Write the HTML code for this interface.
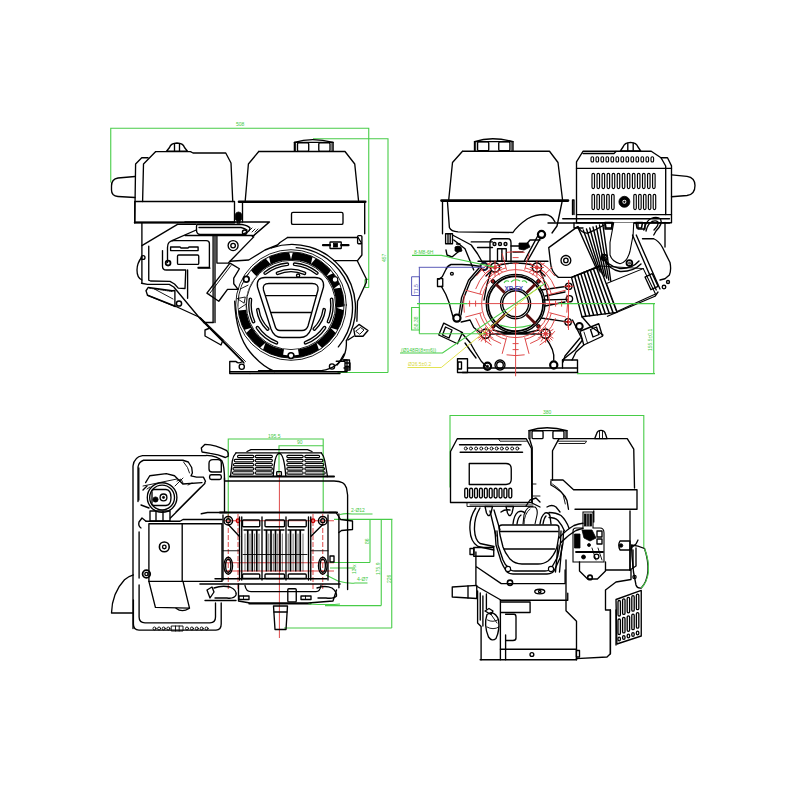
<!DOCTYPE html>
<html><head><meta charset="utf-8"><style>
html,body{margin:0;padding:0;background:#fff;}
svg{display:block;}
.k{fill:none;stroke:#000;stroke-width:1.35;stroke-linejoin:round;stroke-linecap:round;}
.kt{fill:none;stroke:#000;stroke-width:0.9;stroke-linejoin:round;stroke-linecap:round;}
.kf{fill:#000;stroke:#000;stroke-width:0.8;}
.wf{fill:#fff;stroke:#000;stroke-width:1.1;}
.g{fill:none;stroke:#48cc48;stroke-width:1.1;}
.r{fill:none;stroke:#dc4040;stroke-width:0.95;}
.rd{fill:none;stroke:#e03030;stroke-width:0.8;stroke-dasharray:6 2 1 2;}
.b{fill:none;stroke:#4848b0;stroke-width:0.9;}
.y{fill:none;stroke:#e0e040;stroke-width:0.9;}
.gt{font-family:"Liberation Sans",sans-serif;font-size:5px;fill:#3ec83e;}
.bt{font-family:"Liberation Sans",sans-serif;font-size:5px;fill:#4848b0;}
.yt{font-family:"Liberation Sans",sans-serif;font-size:5px;fill:#d8d840;}
</style></head><body>
<svg width="800" height="800" viewBox="0 0 800 800">
<rect x="0" y="0" width="800" height="800" fill="#fff"/>
<path d="M110.75,182.5 L110.75,128.25 L368.75,128.25 L368.75,287.5" class="g" />
<path d="M313,138.75 L388,138.75 L388,372.5 M337.5,372.5 L388,372.5" class="g" />
<text x="236" y="126" class="gt" >508</text>
<text x="386" y="262" class="gt" transform="rotate(-90 386 262)">457</text>
<path d="M365,279.4 L369,279.4 M365,287.5 L369,287.5 M365,279.4 L365,287.5" class="g" />
<path d="M155.75,151.6 L190.5,151.6 L193,153 L225.75,153 L231,163 L232.75,201.5" class="k" />
<path d="M155.75,151.6 L143.5,163.9 L142.6,201.5" class="k" />
<path d="M148,157.75 L141.75,157.75 L135.6,164 L134.75,223" class="k" />
<rect x="134.75" y="201.5" width="99.75" height="21" rx="0" class="k" />
<line x1="134.75" y1="222.5" x2="234.5" y2="222.5" class="k" style="stroke-width:2"/>
<path d="M135,176.5 L118,178 Q111.5,179 111.5,186 L111.5,190 Q111.5,196 118,196.5 L135,197.5" class="k" />
<path d="M166.5,151.2 L169.5,147.5 Q171,143.2 177,143 Q183,143.2 184.5,147.5 L187.5,151.2 Z" class="k" />
<line x1="174.5" y1="143.8" x2="174.5" y2="151" class="k" />
<line x1="179.5" y1="143.8" x2="179.5" y2="151" class="k" />
<path d="M235.2,214.5 Q236,212 238.5,212 Q241,212 241.8,214.5 L241.8,219 Q241,221 238.5,221 Q236,221 235.2,219 Z" class="kf" />
<rect x="237.2" y="221" width="2.6" height="2" rx="0" class="k" />
<path d="M258.75,151.5 L345,151.5 L354.75,164 L358.5,200.5 M258.75,151.5 L248.4,164 L245.25,200.5" class="k" />
<line x1="239" y1="201.8" x2="365.25" y2="201.8" class="k" style="stroke-width:2.6"/>
<path d="M294.4,151.3 L294.4,142.4 Q311.815,136.8 333.1,142.4 L333.1,151.3" class="k" />
<line x1="294.4" y1="142.4" x2="333.1" y2="142.4" class="k" />
<rect x="297.5" y="142.70000000000002" width="11.22" height="8.600000000000005" rx="1.2" class="k" />
<rect x="318.78" y="142.70000000000002" width="11.22" height="8.600000000000005" rx="1.2" class="k" />
<line x1="295.561" y1="142.4" x2="295.561" y2="151.3" class="kt" />
<line x1="331.939" y1="142.4" x2="331.939" y2="151.3" class="kt" />
<path d="M242.5,203 L242.5,222 M364.7,203 L364.7,233.75" class="k" />
<rect x="357.6" y="235.6" width="4.3" height="8.1" rx="1" class="k" />
<rect x="291.5" y="212.4" width="51.5" height="12" rx="1.5" class="k" />
<path d="M287.5,237.5 L358.1,237.5 L361.9,243.75 L361.9,255 L357.5,260.6 L333.75,260.6" class="k" />
<path d="M357.5,261.25 L366.25,278.75 L366.25,282.5 L357.5,301.25 L356.9,321.25" class="k" />
<path d="M353.75,329 L359,324.4 L368,330.5 L363,336.25 L355,336.25 Z" class="k" />
<path d="M356,331 L360.5,327.5 L364,330 L360,334 Z" class="kt" />
<path d="M348,340 L353.75,336.25 M344,354 L340,361 L337,365" class="k" />
<path d="M336.25,361.25 L345,361.25 L345,371.25 M345,363 L350,363 L350,370 L345,370 M345,366.5 L350,366.5" class="k" />
<rect x="330" y="242" width="11.25" height="6.5" rx="0.5" class="k" />
<rect x="333.5" y="243.5" width="4" height="3.5" rx="0" class="kf" />
<path d="M323,245.2 L330,245.2 M341.25,245.2 L348.5,245.2" class="k" style="stroke-width:2.2"/>
<path d="M141.9,223 L141.9,283.1" class="k" />
<path d="M141.9,245.6 L177.5,224.4" class="k" />
<path d="M141.9,257 Q137,263 137,270 Q137,278 141.9,280" class="k" />
<circle cx="143.1" cy="257.5" r="1.9" class="k" />
<path d="M148.75,246.25 L148.75,280.25 L150.5,281 L170,281.4 L174.5,284 L178.25,288.1 L185,288.5 L185.75,270 L166.25,270 Q162.5,270 162.5,266.25 L162.5,250.6" class="k" />
<path d="M167.5,262.5 L167.5,247.5 Q167.5,240.6 173.75,240.6 L206.25,240.6 Q209.4,240.6 209.4,243.5 L209.4,267.5" class="k" />
<circle cx="168.1" cy="263.1" r="2.4" class="k" style="stroke-width:1.8"/>
<path d="M170.6,250.6 L170.6,247 L180,247 L181,248 L188,248 L189,247 L198.1,247 L198.1,250.6 Z" class="k" />
<rect x="177.5" y="255" width="21.25" height="9.4" rx="1.2" class="k" />
<line x1="198.1" y1="268.1" x2="210" y2="268.1" class="k" />
<line x1="198.1" y1="267.5" x2="208.75" y2="267.5" class="k" />
<path d="M172,240.6 L196.25,230 M177.5,224.4 L196,224.4" class="k" />
<path d="M197.5,224.5 L242,224.5 Q248,225.5 250,228 Q250,230.5 247,232.5 L242,234.5 L200,234.5 Q196.5,234 196.5,230 L196.5,226.5 Q196.5,224.5 197.5,224.5 Z M199,227.5 L241,227.5 Q245,228.5 247,230" class="k" />
<line x1="185" y1="235.5" x2="252.5" y2="235.5" class="k" />
<path d="M249,231 L252,228 M252,232 L255,229 M255,232 L258,229" class="kt" />
<path d="M185,222 L269.4,222 L252.5,236.6" class="k" style="stroke-width:1.6"/>
<circle cx="244.6" cy="232.2" r="2.2" class="k" />
<line x1="213.1" y1="236" x2="213.1" y2="322.5" class="k" />
<line x1="215" y1="236" x2="215" y2="322.5" class="k" />
<path d="M216.9,236.25 L216.9,263.1 L228.75,263.1" class="k" />
<circle cx="233.1" cy="245.6" r="5" class="k" />
<circle cx="233.1" cy="245.6" r="2.3" class="k" />
<path d="M253.75,236.9 L228.75,262.5" class="k" />
<line x1="203.5" y1="322.5" x2="213.1" y2="322.5" class="k" />
<line x1="187.6" y1="270" x2="187.6" y2="298.25" class="k" />
<path d="M146,290.75 L148.25,287.4 L172.25,290.75 L174.9,290.5 L174.9,306.5 L147.5,295.25 Z" class="k" />
<path d="M149.5,288.2 L172,291.5" class="kt" style="stroke-dasharray:1.2 1"/>
<line x1="153.5" y1="288.5" x2="173" y2="299" class="kt" />
<circle cx="179" cy="303.5" r="2.6" class="k" style="stroke-width:1.5"/>
<path d="M141.5,283.25 L147.5,284.4 L169.25,284.4 L173.75,287 L200,318.5 L244,363" class="k" />
<path d="M147.5,295.25 L176,306.5 L200,317.5 L243,361.5" class="k" />
<path d="M201,318 L245.5,361.5" class="kt" />
<path d="M205,330 L210,328 L223,340 L221,345 L205,336 Z" class="k" />
<path d="M206.9,293.1 L230,263.1 L239.4,268.75 L233.75,278.1 L233.75,283.75 L238.1,289.4 L227.5,289.4 L218.75,301.25 Z" class="k" />
<line x1="210" y1="293.1" x2="231" y2="265.5" class="kt" />
<path d="M230,261.25 L248.75,260 L265,250 L277.5,245 L280,242.5 L287.5,237.5" class="k" />
<path d="M271.33,247.96 A63.5,63.5 0 0 1 346.43,340.70" class="k" />
<path d="M346.4,340.7 Q347,358 336,365 Q330,369.5 321.5,370.6 L258.5,370.6" class="k" />
<path d="M296.22,247.65 A60.5,60.5 0 0 1 338.35,346.89" class="k" />
<path d="M234.7,301.25 Q236,335 250,352 Q262,366.5 274.6,371.5" class="k" />
<path d="M229.75,361.5 L229.75,373.5 L250,373.5 M229.75,361.5 L236,361.5 Q238,364 241.75,362" class="k" />
<circle cx="241.75" cy="366.75" r="2.6" class="k" />
<circle cx="332" cy="366.5" r="2.6" class="k" />
<path d="M229.75,371.75 L347,371.75 L347,360 L343,360" class="k" />
<path d="M250,373.5 L340,373.5" class="k" />
<path d="M344,360 L349.5,360 L349.5,368 L344,368" class="k" />
<circle cx="291" cy="305" r="48.9" class="kf" style="fill:none;stroke-width:7.8"/>
<circle cx="291" cy="305" r="55.3" class="kt" />
<circle cx="291" cy="305" r="44.6" class="kt" />
<circle cx="291" cy="305" r="53.1" class="kt" />
<path d="M248.43,288.66 L241.48,287.85 L242.73,284.61 Z" fill="#fff" stroke="none"/>
<path d="M255.56,276.30 L249.21,273.39 L251.39,270.69 Z" fill="#fff" stroke="none"/>
<path d="M270.65,264.19 L266.08,258.91 L269.19,257.36 Z" fill="#fff" stroke="none"/>
<path d="M291.00,259.40 L289.26,252.63 L292.74,252.63 Z" fill="#fff" stroke="none"/>
<path d="M310.99,264.01 L312.40,257.17 L315.52,258.69 Z" fill="#fff" stroke="none"/>
<path d="M326.44,276.30 L330.61,270.69 L332.79,273.39 Z" fill="#fff" stroke="none"/>
<path d="M333.57,288.66 L339.27,284.61 L340.52,287.85 Z" fill="#fff" stroke="none"/>
<path d="M336.51,307.78 L343.38,306.46 L343.17,309.93 Z" fill="#fff" stroke="none"/>
<path d="M330.49,327.80 L337.22,329.68 L335.49,332.69 Z" fill="#fff" stroke="none"/>
<path d="M316.50,342.80 L321.73,347.45 L318.85,349.39 Z" fill="#fff" stroke="none"/>
<path d="M265.50,342.80 L263.15,349.39 L260.27,347.45 Z" fill="#fff" stroke="none"/>
<path d="M251.51,327.80 L246.51,332.69 L244.78,329.68 Z" fill="#fff" stroke="none"/>
<path d="M245.49,307.78 L238.83,309.93 L238.62,306.46 Z" fill="#fff" stroke="none"/>
<path d="M242.37,310.11 A48.9,48.9 0 0 1 253.54,273.57" fill="none" stroke="#fff" stroke-width="7.2"/>
<path d="M237.6,298.5 L245.3,297 L244.2,302.8 Z M238.6,309 L245.5,304.5" class="kt" />
<path d="M240.2,289 L248,285.2" class="kt" />
<path d="M298.45,352.01 A47.6,47.6 0 0 1 283.55,352.01" fill="none" stroke="#fff" stroke-width="5.4"/>
<path d="M298.90,349.81 L301.94,356.45 M283.10,349.81 L280.06,356.45" class="kt" />
<circle cx="291" cy="355.6" r="2.9" class="wf" style="stroke-width:1.6"/>
<circle cx="246.3" cy="279.25" r="2.8" class="wf" style="stroke-width:1.8"/>
<circle cx="335" cy="279.5" r="2.8" class="wf" />
<path d="M264.44,272.20 A42.2,42.2 0 0 1 287.32,262.96 A1.2,1.2 0 0 1 287.53,265.35 A39.8,39.8 0 0 0 265.95,274.07 A1.2,1.2 0 0 1 264.44,272.20 Z" class="k" />
<path d="M294.68,262.96 A42.2,42.2 0 0 1 317.56,272.20 A1.2,1.2 0 0 1 316.05,274.07 A39.8,39.8 0 0 0 294.47,265.35 A1.2,1.2 0 0 1 294.68,262.96 Z" class="k" />
<path d="M277.05,272.14 A35.7,35.7 0 0 1 304.95,272.14 A1.2,1.2 0 0 1 304.01,274.35 A33.3,33.3 0 0 0 277.99,274.35 A1.2,1.2 0 0 1 277.05,272.14 Z" class="k" />
<path d="M252.45,322.16 A42.2,42.2 0 0 1 249.21,299.13 A1.2,1.2 0 0 1 251.59,299.46 A39.8,39.8 0 0 0 254.64,321.19 A1.2,1.2 0 0 1 252.45,322.16 Z" class="k" />
<path d="M332.79,299.13 A42.2,42.2 0 0 1 329.55,322.16 A1.2,1.2 0 0 1 327.36,321.19 A39.8,39.8 0 0 0 330.41,299.46 A1.2,1.2 0 0 1 332.79,299.13 Z" class="k" />
<path d="M266.90,329.96 A34.7,34.7 0 0 1 256.64,309.83 A1.2,1.2 0 0 1 259.01,309.50 A32.3,32.3 0 0 0 268.56,328.23 A1.2,1.2 0 0 1 266.90,329.96 Z" class="k" />
<path d="M325.36,309.83 A34.7,34.7 0 0 1 315.10,329.96 A1.2,1.2 0 0 1 313.44,328.23 A32.3,32.3 0 0 0 322.99,309.50 A1.2,1.2 0 0 1 325.36,309.83 Z" class="k" />
<path d="M276.06,343.93 A41.7,41.7 0 0 1 256.43,328.32 A1.2,1.2 0 0 1 258.42,326.98 A39.3,39.3 0 0 0 276.92,341.69 A1.2,1.2 0 0 1 276.06,343.93 Z" class="k" />
<path d="M325.57,328.32 A41.7,41.7 0 0 1 305.94,343.93 A1.2,1.2 0 0 1 305.08,341.69 A39.3,39.3 0 0 0 323.58,326.98 A1.2,1.2 0 0 1 325.57,328.32 Z" class="k" />
<circle cx="298.1" cy="275.6" r="1.6" class="k" />
<path d="M265,277.5 L315,277.5 Q324.5,277.5 323.5,287 L311,329 Q308,337.5 300,337.5 L282,337.5 Q274,337.5 271,329 L257.5,287 Q256,277.5 265,277.5 Z" class="k" />
<path d="M269,283.5 L312,283.5 Q319,283.5 318,290 L308,326 Q306.5,330.5 302,330.5 L280,330.5 Q276,330.5 275,326 L263.5,290 Q262,283.5 269,283.5 Z" class="k" />
<line x1="266.25" y1="295.6" x2="316.25" y2="295.6" class="k" />
<line x1="271.25" y1="312.5" x2="311.25" y2="312.5" class="k" />
<path d="M462.5,151.25 L549.5,151.25 L558,162.5 L562.5,199.5 M462.5,151.25 L452.5,162.5 L448.75,199.5" class="k" />
<line x1="441.5" y1="200.6" x2="568" y2="200.6" class="k" style="stroke-width:2.6"/>
<path d="M474.5,150.8 L474.5,141.6 Q491.825,136.0 513,141.6 L513,150.8" class="k" />
<line x1="474.5" y1="141.6" x2="513" y2="141.6" class="k" />
<rect x="477.58" y="141.9" width="11.17" height="8.900000000000016" rx="1.2" class="k" />
<rect x="498.75" y="141.9" width="11.17" height="8.900000000000016" rx="1.2" class="k" />
<line x1="475.655" y1="141.6" x2="475.655" y2="150.8" class="kt" />
<line x1="511.845" y1="141.6" x2="511.845" y2="150.8" class="kt" />
<path d="M442.5,201.5 L442.5,233.75 M447.5,202.5 L449.4,227.5 Q451,231.5 458,231.9 L513,232.5 Q517,226 527.5,218.75 Q535,214.5 545,214.5 Q552,215 555,222" class="k" />
<path d="M562,202 L557,226 L552,233" class="k" />
<path d="M445.6,233.75 L452.5,233.75 L452.5,243.75 L445.6,243.75 Z M448,234 L448,243.5 M450.2,234 L450.2,243.5" class="k" />
<path d="M452.5,235 L471.25,245 L477.5,253.75 L482.5,262.5 M453.75,240 L465,248.75 L473.75,270" class="k" />
<line x1="471.25" y1="241.9" x2="492.5" y2="241.9" class="k" />
<line x1="477.5" y1="247.5" x2="492.5" y2="247.5" class="k" />
<path d="M490,262 L490,243 Q490,238.75 494,238.75 L508,238.75 Q511,238.75 511,243 L511,262" class="k" />
<rect x="497.5" y="248.75" width="8.75" height="12.5" rx="0" class="k" />
<line x1="501.9" y1="248.75" x2="501.9" y2="261.25" class="k" />
<circle cx="494.5" cy="244" r="1.5" class="k" />
<circle cx="500" cy="244" r="1.5" class="k" />
<circle cx="505.5" cy="244" r="1.5" class="k" />
<path d="M511,246 L525,246 L530,240 L540,240 M513,252 L523,252" class="k" />
<path d="M524.5,260.5 L538,235.5 M527.5,261 L541,237" class="k" style="stroke-width:1.4"/>
<circle cx="541.5" cy="234.5" r="3.6" class="k" style="stroke-width:2.2"/>
<line x1="478" y1="261.25" x2="548" y2="261.25" class="k" />
<path d="M446,250 L447,255 L452,257 L458,252" class="k" />
<path d="M479,266.25 Q470,264.3 460,264.5 L451,264.5 Q447,266 445.75,269.75 L442.25,276.75 L438.75,279.4 M441.4,286.4 L445.75,294.25 L449.25,303 L451,310 L452.75,316" class="k" />
<path d="M479,268 L468.5,280.25 L461.5,297.75 L459.75,310 L458.9,315" class="k" />
<path d="M481,269 L470.5,281 L463.5,298.5 L461.75,310.5 L461,315" class="k" />
<path d="M437.5,278.6 L442.75,278.6 L442.75,286.5 L437.5,286.5 Z" class="k" />
<circle cx="451.9" cy="273.75" r="1.4" class="k" />
<circle cx="456.9" cy="318.1" r="3.6" class="k" style="stroke-width:2.2"/>
<path d="M443.75,323.1 L462.5,332.5 L457.5,343.75 L438.75,335 Z" class="k" />
<path d="M445.5,327 L452,330 L449,338 L442.5,335 Z" class="k" />
<path d="M461.25,322 L470,320 L473.75,327.5 L480,332.5 M461.25,332.5 L470,342.5 L475,351.25 L481.25,361.25 L486.25,366.25" class="k" />
<path d="M465,343 L470,350 L476,358" class="k" />
<path d="M457.5,358.75 L467.5,358.75 L467.5,372.5 L457.5,372.5 Z" class="k" />
<rect x="458" y="362" width="3.5" height="7" rx="0" class="k" />
<line x1="462.5" y1="372.5" x2="577.5" y2="372.5" class="k" style="stroke-width:1.6"/>
<line x1="467.5" y1="368" x2="577.5" y2="368" class="k" />
<circle cx="487.5" cy="366.25" r="3.6" class="k" style="stroke-width:2.2"/>
<circle cx="487.5" cy="366.25" r="1" class="kf" />
<circle cx="500" cy="365" r="5" class="k" />
<circle cx="500" cy="365" r="3.3" class="k" />
<circle cx="553.75" cy="365" r="3.6" class="k" style="stroke-width:2.2"/>
<path d="M562.5,360 L577.5,360 L577.5,372.5 M562.5,360 L562.5,368" class="k" />
<path d="M572.5,320 L582.5,340 L575,350 L562.5,360" class="k" />
<path d="M545.6,338 Q555,350 553.75,360" class="k" />
<circle cx="515.6" cy="303.75" r="15" class="k" />
<circle cx="515.6" cy="303.75" r="13" class="k" />
<circle cx="515.6" cy="303.75" r="27.5" class="k" style="stroke-width:1.8"/>
<circle cx="515.6" cy="303.75" r="29.4" class="k" />
<circle cx="495" cy="267.5" r="4.6" class="wf" style="stroke-width:1.7"/>
<circle cx="495" cy="267.5" r="1.6" class="kf" style="fill:#b01010;stroke:#b01010"/>
<circle cx="536.9" cy="267.5" r="4.6" class="wf" style="stroke-width:1.7"/>
<circle cx="536.9" cy="267.5" r="1.6" class="kf" style="fill:#b01010;stroke:#b01010"/>
<circle cx="485.6" cy="333.75" r="4.6" class="wf" style="stroke-width:1.7"/>
<circle cx="485.6" cy="333.75" r="1.6" class="kf" style="fill:#b01010;stroke:#b01010"/>
<circle cx="545.6" cy="333.75" r="4.6" class="wf" style="stroke-width:1.7"/>
<circle cx="545.6" cy="333.75" r="1.6" class="kf" style="fill:#b01010;stroke:#b01010"/>
<circle cx="493.1" cy="281.4" r="1.9" class="k" style="fill:#a01818;stroke-width:1"/>
<circle cx="538.5" cy="281.4" r="1.9" class="k" style="fill:#a01818;stroke-width:1"/>
<circle cx="493.1" cy="326.4" r="1.9" class="k" style="fill:#a01818;stroke-width:1"/>
<circle cx="538.5" cy="326.4" r="1.9" class="k" style="fill:#a01818;stroke-width:1"/>
<path d="M499,265 Q516,261 533,265 M540,271 Q547,285 548,300 M490,334 L541,334 M493,330 Q516,337 539,330 M484,300 Q486,285 491,271" class="k" />
<path d="M491,271 L486,276 M540,271 L545,276" class="k" />
<line x1="526.56" y1="314.71" x2="535.40" y2="323.55" stroke="#5a0e0e" stroke-width="2.8"/>
<line x1="504.64" y1="314.71" x2="495.80" y2="323.55" stroke="#5a0e0e" stroke-width="2.8"/>
<line x1="504.64" y1="292.79" x2="495.80" y2="283.95" stroke="#5a0e0e" stroke-width="2.8"/>
<line x1="526.56" y1="292.79" x2="535.40" y2="283.95" stroke="#5a0e0e" stroke-width="2.8"/>
<path d="M541,290 L567.5,286.25 M543,300 L567.5,299.4 M541,318 L567.5,321.9 M545,296 L565,292 M545,306 L565,302" class="k" />
<circle cx="568.75" cy="286.25" r="3.2" class="k" />
<circle cx="569.4" cy="298.75" r="3.2" class="k" />
<circle cx="568.1" cy="321.9" r="3.2" class="k" />
<circle cx="579.4" cy="326.25" r="3.3" class="k" style="stroke-width:2"/>
<path d="M580,331.25 L598.75,323.75 L602.5,336.25 L583.75,345 Z" class="k" />
<path d="M590.5,329.5 L596.5,327 L599,334.5 L593,337 Z" class="k" />
<path d="M584,332 L587.5,343" class="kt" />
<path d="M580,338 L570,350 L565,356 L563,362 M583.75,345 L576,352 L572,360" class="k" />
<circle cx="484" cy="266.5" r="3.6" class="k" style="stroke-width:2.2;stroke:#181830"/>
<path d="M519,243 L528,243 L530,247 L524,250 L519,249 Z" class="kf" />
<path d="M455,247 Q458,245 461,247 L462,251 Q458,253 455,251 Z" class="kf" />
<path d="M456.5,244 L460,244" class="k" />
<path d="M583,151.25 L651.25,151.25 L661,157.75 L667.5,157.75 L671.5,165.9 L671.5,222.75 L576.5,222.75 L576.5,161.8 Z" class="k" />
<path d="M583,153.5 L614,153.5 L616,151.5" class="k" />
<line x1="576.5" y1="168.3" x2="671.5" y2="168.3" class="k" />
<line x1="576.5" y1="214.6" x2="671.5" y2="214.6" class="k" />
<path d="M661,157.75 L665.7,166 L665.7,214.6" class="k" />
<path d="M572.5,214.6 L572.5,200 L574,200 L574,214.6" class="k" />
<rect x="591.0" y="156.8" width="2.6" height="5.2" rx="1.3" class="k" style="stroke-width:1.1"/>
<rect x="596.0" y="156.8" width="2.6" height="5.2" rx="1.3" class="k" style="stroke-width:1.1"/>
<rect x="601.0" y="156.8" width="2.6" height="5.2" rx="1.3" class="k" style="stroke-width:1.1"/>
<rect x="606.0" y="156.8" width="2.6" height="5.2" rx="1.3" class="k" style="stroke-width:1.1"/>
<rect x="611.0" y="156.8" width="2.6" height="5.2" rx="1.3" class="k" style="stroke-width:1.1"/>
<rect x="616.0" y="156.8" width="2.6" height="5.2" rx="1.3" class="k" style="stroke-width:1.1"/>
<rect x="621.0" y="156.8" width="2.6" height="5.2" rx="1.3" class="k" style="stroke-width:1.1"/>
<rect x="626.0" y="156.8" width="2.6" height="5.2" rx="1.3" class="k" style="stroke-width:1.1"/>
<rect x="631.0" y="156.8" width="2.6" height="5.2" rx="1.3" class="k" style="stroke-width:1.1"/>
<rect x="636.0" y="156.8" width="2.6" height="5.2" rx="1.3" class="k" style="stroke-width:1.1"/>
<rect x="641.0" y="156.8" width="2.6" height="5.2" rx="1.3" class="k" style="stroke-width:1.1"/>
<rect x="646.0" y="156.8" width="2.6" height="5.2" rx="1.3" class="k" style="stroke-width:1.1"/>
<rect x="651.0" y="156.8" width="2.6" height="5.2" rx="1.3" class="k" style="stroke-width:1.1"/>
<rect x="592.0" y="173.3" width="2.5" height="15.3" rx="1.25" class="k" style="stroke-width:1.15"/>
<rect x="597.05" y="173.3" width="2.5" height="15.3" rx="1.25" class="k" style="stroke-width:1.15"/>
<rect x="602.1" y="173.3" width="2.5" height="15.3" rx="1.25" class="k" style="stroke-width:1.15"/>
<rect x="607.15" y="173.3" width="2.5" height="15.3" rx="1.25" class="k" style="stroke-width:1.15"/>
<rect x="612.2" y="173.3" width="2.5" height="15.3" rx="1.25" class="k" style="stroke-width:1.15"/>
<rect x="617.25" y="173.3" width="2.5" height="15.3" rx="1.25" class="k" style="stroke-width:1.15"/>
<rect x="622.3" y="173.3" width="2.5" height="15.3" rx="1.25" class="k" style="stroke-width:1.15"/>
<rect x="627.35" y="173.3" width="2.5" height="15.3" rx="1.25" class="k" style="stroke-width:1.15"/>
<rect x="632.4" y="173.3" width="2.5" height="15.3" rx="1.25" class="k" style="stroke-width:1.15"/>
<rect x="637.45" y="173.3" width="2.5" height="15.3" rx="1.25" class="k" style="stroke-width:1.15"/>
<rect x="642.5" y="173.3" width="2.5" height="15.3" rx="1.25" class="k" style="stroke-width:1.15"/>
<rect x="647.55" y="173.3" width="2.5" height="15.3" rx="1.25" class="k" style="stroke-width:1.15"/>
<rect x="652.6" y="173.3" width="2.5" height="15.3" rx="1.25" class="k" style="stroke-width:1.15"/>
<rect x="592.0" y="194.3" width="2.5" height="15.3" rx="1.25" class="k" style="stroke-width:1.15"/>
<rect x="596.9" y="194.3" width="2.5" height="15.3" rx="1.25" class="k" style="stroke-width:1.15"/>
<rect x="601.8" y="194.3" width="2.5" height="15.3" rx="1.25" class="k" style="stroke-width:1.15"/>
<rect x="606.7" y="194.3" width="2.5" height="15.3" rx="1.25" class="k" style="stroke-width:1.15"/>
<rect x="611.6" y="194.3" width="2.5" height="15.3" rx="1.25" class="k" style="stroke-width:1.15"/>
<rect x="633.8" y="194.3" width="2.5" height="15.3" rx="1.25" class="k" style="stroke-width:1.15"/>
<rect x="638.65" y="194.3" width="2.5" height="15.3" rx="1.25" class="k" style="stroke-width:1.15"/>
<rect x="643.5" y="194.3" width="2.5" height="15.3" rx="1.25" class="k" style="stroke-width:1.15"/>
<rect x="648.3499999999999" y="194.3" width="2.5" height="15.3" rx="1.25" class="k" style="stroke-width:1.15"/>
<rect x="653.1999999999999" y="194.3" width="2.5" height="15.3" rx="1.25" class="k" style="stroke-width:1.15"/>
<circle cx="624.4" cy="201.8" r="5.5" class="kf" />
<circle cx="624.4" cy="201.8" r="2.0" class="wf" style="stroke:none"/>
<circle cx="624.4" cy="201.8" r="0.8" class="kf" />
<path d="M671.5,174.8 L687,176.3 Q695,177.5 695,185.5 Q695,194.5 687,195.5 L671.5,196.75" class="k" />
<path d="M620.4,150.8 L623,147 Q624.5,142.6 630.5,142.4 Q636.5,142.6 638,147 L640.7,150.8 Z" class="k" />
<line x1="627.8" y1="143.2" x2="627.8" y2="150.5" class="k" />
<line x1="633.2" y1="143.2" x2="633.2" y2="150.5" class="k" />
<line x1="562.75" y1="218.75" x2="669.5" y2="218.75" class="k" />
<line x1="548" y1="223" x2="669.5" y2="223" class="k" />
<path d="M574,223 L574,228 L583,228 M605,223 L605,229 L612,229 L612,223 M638,223 L638,229 L645,229 L645,223" class="k" />
<path d="M548.75,247.6 L577.6,226.6 L596,267.75 L571.5,277.4 L558.4,277.4 Q551,272 550.5,262.5 Z" class="k" />
<circle cx="565.9" cy="260.4" r="4.9" class="k" />
<circle cx="565.9" cy="260.4" r="2.2" class="k" />
<path d="M571.5,277.4 L599.5,266 L617,312.4 L582,316.75 Z" class="k" />
<line x1="574.61" y1="276.13" x2="585.89" y2="316.27" class="k" style="stroke-width:1.5"/>
<line x1="577.72" y1="274.87" x2="589.78" y2="315.78" class="k" style="stroke-width:1.5"/>
<line x1="580.83" y1="273.6" x2="593.67" y2="315.3" class="k" style="stroke-width:1.5"/>
<line x1="583.94" y1="272.33" x2="597.56" y2="314.82" class="k" style="stroke-width:1.5"/>
<line x1="587.06" y1="271.07" x2="601.44" y2="314.33" class="k" style="stroke-width:1.5"/>
<line x1="590.17" y1="269.8" x2="605.33" y2="313.85" class="k" style="stroke-width:1.5"/>
<line x1="593.28" y1="268.53" x2="609.22" y2="313.37" class="k" style="stroke-width:1.5"/>
<line x1="596.39" y1="267.27" x2="613.11" y2="312.88" class="k" style="stroke-width:1.5"/>
<path d="M578,226.5 Q582,234 588,233 Q596,230 604,225" class="k" />
<line x1="583.25" y1="230.0" x2="598.12" y2="270.0" class="k" style="stroke-width:1.4"/>
<line x1="586.5" y1="229.0" x2="600.25" y2="272.0" class="k" style="stroke-width:1.4"/>
<line x1="589.75" y1="228.0" x2="602.38" y2="274.0" class="k" style="stroke-width:1.4"/>
<line x1="593.0" y1="227.0" x2="604.5" y2="276.0" class="k" style="stroke-width:1.4"/>
<line x1="596.25" y1="226.0" x2="606.62" y2="278.0" class="k" style="stroke-width:1.4"/>
<line x1="599.5" y1="225.0" x2="608.75" y2="280.0" class="k" style="stroke-width:1.4"/>
<line x1="602.75" y1="224.0" x2="610.88" y2="282.0" class="k" style="stroke-width:1.4"/>
<path d="M602,254 Q606,266 620,268.5 Q632,269 639,261 M603.5,258.5 Q609,269.5 620,271.5 Q633,272 641,264" class="k" />
<path d="M613.75,222.5 L610,242.5 L610,255 Q612,261.5 620,263.75 Q627,262.5 630,251.25 L633.1,235 L633.75,222.5" class="wf" style="fill:#fff"/>
<circle cx="604.4" cy="257.5" r="2.9" class="k" style="stroke-width:1.8"/>
<circle cx="629.4" cy="263.1" r="2.9" class="k" style="stroke-width:1.8"/>
<circle cx="604.4" cy="257.5" r="0.9" class="kt" />
<circle cx="629.4" cy="263.1" r="0.9" class="kt" />
<path d="M605,222.5 L612.5,222.5 L611.5,228 L606,228 Z M636,222.5 L642.5,222.5 L641.5,228 L637,228 Z" class="k" style="stroke-width:1.5"/>
<path d="M606.5,283.5 L643.25,268.6 L655.5,294 L617,311.5 Z" class="wf" />
<line x1="599.5" y1="266" x2="643.25" y2="268.6" class="kt" />
<path d="M642.5,238.75 L653.75,238.75 Q659,241 662.5,247.5 L670,262.5 Q671.5,270 669.4,275 L665,278.75 L660,280" class="k" />
<line x1="665" y1="222.5" x2="665" y2="247" class="k" />
<path d="M632.5,235 L656.25,290 M636.25,235 L660,289" class="k" />
<rect x="647.6" y="274.75" width="7.9" height="14" rx="0" class="k" transform="rotate(-25 651.5 281.75)"/>
<circle cx="664" cy="287" r="1.8" class="k" />
<circle cx="668" cy="282" r="1.5" class="k" />
<path d="M643.75,230 Q646,221 651,218.5 Q657,216 660.5,219 Q663,224 656,231 L653.75,235 M646,231 Q648,223.5 652,221.5 Q656,220 658,222 Q659,225 654,230" class="k" />
<path d="M607.5,316.25 L655,296.25 L658,292" class="k" />
<path d="M582,316.75 L590,326 L603,335" class="k" />
<path d="M228.25,520 L228.25,439 L323.2,439 L323.2,513" class="g" />
<path d="M279,473.5 L279,445.75 L323.2,445.75" class="g" />
<text x="268" y="437.5" class="gt" >195.5</text>
<text x="297" y="444" class="gt" >90</text>
<line x1="279.4" y1="473.5" x2="279.4" y2="638" class="r" />
<line x1="224" y1="520.75" x2="334" y2="520.75" class="r" />
<line x1="224" y1="562.75" x2="334" y2="562.75" class="r" />
<line x1="224" y1="571" x2="334" y2="571" class="r" />
<line x1="228.25" y1="514" x2="228.25" y2="590" class="r" style="stroke-dasharray:5 2"/>
<line x1="238" y1="514" x2="238" y2="590" class="r" style="stroke-dasharray:5 2"/>
<line x1="313" y1="514" x2="313" y2="590" class="r" style="stroke-dasharray:5 2"/>
<line x1="322.75" y1="514" x2="322.75" y2="590" class="r" style="stroke-dasharray:5 2"/>
<path d="M334,519.4 L392.5,519.4 M370,519.4 L370,562.5 M381.25,519.4 L381.25,605.6 M391.75,519.4 L391.75,628" class="g" />
<path d="M330,562.5 L370,562.5 M330,568 L355,568 M325,605.6 L381.25,605.6 M284,628 L391.75,628" class="g" />
<path d="M340,514.5 Q345,513 352,514 L372.5,514" class="g" />
<path d="M326,575 L338,581 Q350,584 355,583 L367.5,583" class="g" />
<text x="351" y="512" class="gt" >2-Ø12</text>
<text x="357" y="581" class="gt" >4-Ø7</text>
<text x="369" y="544" class="gt" transform="rotate(-90 369 544)">86</text>
<text x="380" y="575" class="gt" transform="rotate(-90 380 575)">175.9</text>
<text x="391" y="583" class="gt" transform="rotate(-90 391 583)">226</text>
<text x="356" y="574" class="gt" transform="rotate(-90 356 574)">13.x</text>
<path d="M142.5,455.6 L206.25,455.6 M142.5,455.6 Q134,457 133,466 L133,628.5" class="k" />
<path d="M138,501.5 L138,467 Q138.75,462 143.5,460.25 L182.8,460.25 L188.3,462 L191.7,467.5 L192.4,473 L191,475.8 L196.5,477.1 L203.4,477.1 L205.5,481.25 L204.8,482.6" class="k" />
<path d="M183.5,462 L187.5,467.5 L189.5,473" class="kt" />
<line x1="138.8" y1="468" x2="138.8" y2="500" class="k" />
<path d="M145.6,482.6 L149.75,475.75 L166.25,473.7 L174.5,475.75 L177.25,478.5 L182.8,484 L202,482.6" class="k" />
<path d="M143,486 L177,479 M147,489 L150,487" class="kt" />
<path d="M204.8,483.6 L170.4,518 M200.5,487.5 L176,512" class="k" />
<path d="M177,481 L181,479 L183,483 M188,485 L192,483" class="kt" />
<path d="M201.25,513.75 L207.5,512.5 L226.8,512.5" class="k" />
<path d="M201.3,447.9 L204.8,444.4 Q216,445 226.8,450.6 Q229,453 228.2,456.1 L225.4,457.5 Q218,454.5 210.3,453.4 L202,452 Z" class="k" />
<path d="M213,459.6 L218,459.6 Q221.3,459.6 221.3,463 L221.3,472 L212,472 Q209,472 209,469 L209,463.5 Q209,459.6 213,459.6 Z" class="k" />
<rect x="209.6" y="474.7" width="11.7" height="4.8" rx="1.8" class="k" />
<path d="M206.25,455.4 Q218,456 222,461 Q224.5,466 224.5,480" class="k" />
<circle cx="162.1" cy="497.5" r="14.8" class="k" />
<circle cx="162.1" cy="497.5" r="12.4" class="k" />
<path d="M152,492 Q151,490 154,489.5 L166,489.5 Q171,490 171,497.4 Q171,505 166,505.5 L154,505.5 Q151,505 152,503 Z" class="k" />
<circle cx="155.5" cy="499.5" r="2.6" class="kf" />
<circle cx="163.5" cy="497.4" r="3.4" class="k" />
<circle cx="163.5" cy="497.4" r="1.1" class="kf" />
<path d="M143,490 L147,486 M141,505 L149,508 M150,511 L170,511 L170,521 L150,521 Z M156,511 L156,521 M163,511 L163,521" class="k" />
<path d="M175,486 L183,478 M178,510 L190,498" class="kt" />
<rect x="148.9" y="523.7" width="73.1" height="57.7" rx="0" class="k" />
<line x1="182.2" y1="523.7" x2="182.2" y2="581.4" class="k" />
<path d="M146,521.25 L180,521.25 L183,519.5 L222,519.5" class="k" />
<circle cx="164.3" cy="546.9" r="4.9" class="k" style="stroke-width:1.6"/>
<circle cx="164.3" cy="546.9" r="1.8" class="k" />
<path d="M148.9,581.4 L155.4,607.4 L189.5,608.2 L183,581.4" class="k" />
<path d="M176,608.2 Q182,613 189,608.5" class="k" />
<circle cx="146.4" cy="574" r="3.8" class="k" style="stroke-width:1.8"/>
<circle cx="146.4" cy="574" r="1.6" class="k" />
<line x1="139.1" y1="532" x2="139.1" y2="578" class="k" />
<path d="M141,528 Q138,526 139,522 L142,518 L146,521.25" class="k" />
<path d="M111.5,613 Q112,593 124.5,579.75 Q128,576.5 133.4,574.9 M111.5,613 L133.4,613" class="k" />
<path d="M133.4,600 L133.4,624 Q133.4,630.1 139,630.1 L216,630.1 Q221.2,630.1 221.2,624 L221.2,603" class="k" />
<path d="M139.1,585 L139.1,617 Q139.1,622.8 145,622.8 L210,622.8 Q215.5,622.8 215.5,617 L215.5,603" class="k" />
<circle cx="154.5" cy="628.5" r="1.5" class="kt" />
<circle cx="159.1" cy="628.5" r="1.5" class="kt" />
<circle cx="163.7" cy="628.5" r="1.5" class="kt" />
<circle cx="168.3" cy="628.5" r="1.5" class="kt" />
<circle cx="187.0" cy="628.5" r="1.5" class="kt" />
<circle cx="191.9" cy="628.5" r="1.5" class="kt" />
<circle cx="196.8" cy="628.5" r="1.5" class="kt" />
<circle cx="201.7" cy="628.5" r="1.5" class="kt" />
<circle cx="206.6" cy="628.5" r="1.5" class="kt" />
<rect x="171.6" y="626" width="11.4" height="5" rx="0" class="kt" />
<line x1="175.5" y1="626" x2="175.5" y2="631" class="kt" />
<line x1="179.2" y1="626" x2="179.2" y2="631" class="kt" />
<path d="M207,590 L212,587 L214,592 L210,598 Z" class="k" />
<path d="M214,588 Q222,585 230,587 Q237,590 236,595 Q234,599 227,598 L215,598" class="k" />
<path d="M317,588 Q325,585 332,588 Q337,592 336.5,596 Q334,599 326,598 L318,598" class="k" />
<line x1="205" y1="600.5" x2="236" y2="600.5" class="k" />
<path d="M247,451.5 L251,449.6 L307.5,449.6 L312,451.5" class="k" />
<path d="M236,452.9 L321.3,452.9" class="k" />
<path d="M236,452.9 Q233,456 232.3,461 L230.5,476.5" class="k" />
<path d="M321.3,452.9 Q324,456 324.8,461 L327.5,476.5" class="k" />
<rect x="237.5" y="455.3" width="16.3" height="2.4" rx="1.2" class="k" style="stroke-width:1.15"/>
<rect x="255.2" y="455.3" width="17.2" height="2.4" rx="1.2" class="k" style="stroke-width:1.15"/>
<rect x="286.8" y="455.3" width="16.4" height="2.4" rx="1.2" class="k" style="stroke-width:1.15"/>
<rect x="304.8" y="455.3" width="14.8" height="2.4" rx="1.2" class="k" style="stroke-width:1.15"/>
<rect x="234.2" y="459.42" width="19.6" height="2.4" rx="1.2" class="k" style="stroke-width:1.15"/>
<rect x="255.2" y="459.42" width="17.2" height="2.4" rx="1.2" class="k" style="stroke-width:1.15"/>
<rect x="286.8" y="459.42" width="16.4" height="2.4" rx="1.2" class="k" style="stroke-width:1.15"/>
<rect x="304.8" y="459.42" width="18.1" height="2.4" rx="1.2" class="k" style="stroke-width:1.15"/>
<rect x="233.45" y="463.54" width="20.35" height="2.4" rx="1.2" class="k" style="stroke-width:1.15"/>
<rect x="255.2" y="463.54" width="17.2" height="2.4" rx="1.2" class="k" style="stroke-width:1.15"/>
<rect x="286.8" y="463.54" width="16.4" height="2.4" rx="1.2" class="k" style="stroke-width:1.15"/>
<rect x="304.8" y="463.54" width="19.04" height="2.4" rx="1.2" class="k" style="stroke-width:1.15"/>
<rect x="232.96" y="467.66" width="20.84" height="2.4" rx="1.2" class="k" style="stroke-width:1.15"/>
<rect x="255.2" y="467.66" width="17.2" height="2.4" rx="1.2" class="k" style="stroke-width:1.15"/>
<rect x="286.8" y="467.66" width="16.4" height="2.4" rx="1.2" class="k" style="stroke-width:1.15"/>
<rect x="304.8" y="467.66" width="19.74" height="2.4" rx="1.2" class="k" style="stroke-width:1.15"/>
<rect x="232.46" y="471.78" width="21.34" height="2.4" rx="1.2" class="k" style="stroke-width:1.15"/>
<rect x="255.2" y="471.78" width="17.2" height="2.4" rx="1.2" class="k" style="stroke-width:1.15"/>
<rect x="286.8" y="471.78" width="16.4" height="2.4" rx="1.2" class="k" style="stroke-width:1.15"/>
<rect x="304.8" y="471.78" width="20.44" height="2.4" rx="1.2" class="k" style="stroke-width:1.15"/>
<path d="M273.25,476 Q274.5,453.5 279.3,453.5 Q284,453.5 285.8,476" class="k" />
<rect x="276.7" y="471.6" width="4.7" height="4.2" rx="0.8" class="k" />
<line x1="230" y1="476.5" x2="334" y2="476.5" class="k" style="stroke-width:2"/>
<path d="M224.5,481 L334,481 Q345,481 346.5,488 L347.6,495 L347.6,589.5" class="k" />
<line x1="338.9" y1="514" x2="338.9" y2="587.75" class="k" />
<line x1="220" y1="512.5" x2="337" y2="512.5" class="k" style="stroke-width:2.2"/>
<path d="M224.5,478 L224.5,512" class="k" />
<circle cx="228.25" cy="520.75" r="4.3" class="k" style="stroke-width:1.5"/>
<circle cx="228.25" cy="520.75" r="2" class="k" />
<circle cx="322.75" cy="520.75" r="4.3" class="k" style="stroke-width:1.5"/>
<circle cx="322.75" cy="520.75" r="2" class="k" />
<circle cx="238" cy="520.75" r="1.8" class="k" style="stroke:#c00"/>
<circle cx="313" cy="520.75" r="1.8" class="k" style="stroke:#c00"/>
<line x1="223" y1="515" x2="223" y2="580" class="k" />
<line x1="328" y1="515" x2="328" y2="580" class="k" />
<line x1="239.5" y1="517" x2="239.5" y2="580" class="k" />
<line x1="241.75" y1="517" x2="241.75" y2="580" class="k" />
<line x1="308.5" y1="517" x2="308.5" y2="580" class="k" />
<line x1="310.75" y1="517" x2="310.75" y2="580" class="k" />
<path d="M228.25,524.5 L239.5,536.5 M322.75,524.5 L310.75,536.5" class="k" />
<rect x="242.5" y="520" width="17.25" height="6.75" rx="1" class="k" />
<rect x="242.5" y="574" width="17.25" height="4.5" rx="1" class="k" />
<rect x="265" y="520" width="19.5" height="6.75" rx="1" class="k" />
<rect x="265" y="574" width="19.5" height="4.5" rx="1" class="k" />
<rect x="288.25" y="520" width="18.0" height="6.75" rx="1" class="k" />
<rect x="288.25" y="574" width="18.0" height="4.5" rx="1" class="k" />
<line x1="262" y1="517" x2="262" y2="580" class="k" />
<line x1="286" y1="517" x2="286" y2="580" class="k" />
<line x1="247.75" y1="530" x2="247.75" y2="571.5" class="k" style="stroke-width:1.7;stroke-linecap:butt"/>
<line x1="252.25" y1="530" x2="252.25" y2="571.5" class="k" style="stroke-width:1.7;stroke-linecap:butt"/>
<line x1="256.75" y1="530" x2="256.75" y2="571.5" class="k" style="stroke-width:1.7;stroke-linecap:butt"/>
<line x1="266.5" y1="530" x2="266.5" y2="571.5" class="k" style="stroke-width:1.7;stroke-linecap:butt"/>
<line x1="271" y1="530" x2="271" y2="571.5" class="k" style="stroke-width:1.7;stroke-linecap:butt"/>
<line x1="275.5" y1="530" x2="275.5" y2="571.5" class="k" style="stroke-width:1.7;stroke-linecap:butt"/>
<line x1="280" y1="530" x2="280" y2="571.5" class="k" style="stroke-width:1.7;stroke-linecap:butt"/>
<line x1="290.5" y1="530" x2="290.5" y2="571.5" class="k" style="stroke-width:1.7;stroke-linecap:butt"/>
<line x1="295.75" y1="530" x2="295.75" y2="571.5" class="k" style="stroke-width:1.7;stroke-linecap:butt"/>
<line x1="300.25" y1="530" x2="300.25" y2="571.5" class="k" style="stroke-width:1.7;stroke-linecap:butt"/>
<line x1="245" y1="534" x2="245" y2="571" class="k" style="stroke-width:0.6"/>
<line x1="250" y1="534" x2="250" y2="571" class="k" style="stroke-width:0.6"/>
<line x1="254.5" y1="534" x2="254.5" y2="571" class="k" style="stroke-width:0.6"/>
<line x1="259" y1="534" x2="259" y2="571" class="k" style="stroke-width:0.6"/>
<line x1="268.8" y1="534" x2="268.8" y2="571" class="k" style="stroke-width:0.6"/>
<line x1="273.3" y1="534" x2="273.3" y2="571" class="k" style="stroke-width:0.6"/>
<line x1="277.8" y1="534" x2="277.8" y2="571" class="k" style="stroke-width:0.6"/>
<line x1="282.3" y1="534" x2="282.3" y2="571" class="k" style="stroke-width:0.6"/>
<line x1="288.2" y1="534" x2="288.2" y2="571" class="k" style="stroke-width:0.6"/>
<line x1="293.1" y1="534" x2="293.1" y2="571" class="k" style="stroke-width:0.6"/>
<line x1="298" y1="534" x2="298" y2="571" class="k" style="stroke-width:0.6"/>
<line x1="303" y1="534" x2="303" y2="571" class="k" style="stroke-width:0.6"/>
<path d="M244,530 L260,530 M264,530 L284,530 M288,530 L304,530" class="k" />
<line x1="243" y1="554.5" x2="307" y2="554.5" class="kt" />
<line x1="223" y1="550.75" x2="239.5" y2="550.75" class="kt" />
<line x1="310.75" y1="550.75" x2="328" y2="550.75" class="kt" />
<ellipse cx="228.25" cy="565.75" rx="4.3" ry="8.5" class="k"/>
<ellipse cx="228.25" cy="565.75" rx="2.6" ry="6.5" class="k"/>
<ellipse cx="322.75" cy="565.75" rx="4.3" ry="8.5" class="k"/>
<ellipse cx="322.75" cy="565.75" rx="2.6" ry="6.5" class="k"/>
<path d="M329,512.5 L336,512.5 L340.6,519.5 L352.5,521 L352.5,529.5 L341.5,530.5 L338.9,532.5" class="k" />
<rect x="330" y="556" width="4" height="6" rx="0" class="k" />
<line x1="215" y1="578.75" x2="327" y2="578.75" class="k" />
<line x1="200" y1="584" x2="340" y2="584" class="k" style="stroke-width:1.6"/>
<path d="M238.5,584 L238.5,601 L250,603 L308,603 L333,601 L336.5,590" class="k" />
<path d="M245,585.5 Q246,591.6 251,591.6 L316,591.6 Q320,591.6 321,585.5" class="k" />
<line x1="249" y1="603.75" x2="311" y2="603.75" class="k" />
<rect x="287.8" y="588.75" width="8.45" height="13.15" rx="1" class="k" />
<rect x="239" y="596" width="10" height="3.5" rx="0" class="k" />
<rect x="301" y="596" width="10" height="3.5" rx="0" class="k" />
<line x1="243.5" y1="596" x2="243.5" y2="599.5" class="kt" />
<line x1="305.5" y1="596" x2="305.5" y2="599.5" class="kt" />
<path d="M308.5,604 Q330,605 340,604" class="g" />
<path d="M273.5,606 L287.5,606 L286,629.5 L275,629.5 Z" class="k" />
<line x1="274" y1="612" x2="287" y2="612" class="k" />
<path d="M450,487.5 L450,415.5 L643.8,415.5 L643.8,548.6" class="g" />
<text x="543" y="414" class="gt" >380</text>
<path d="M457.25,438.75 L526.25,438.75 L531.5,448.5 L531.8,502.5 L450.5,502.5 L450.5,451.5 Z" class="k" />
<path d="M498.5,438.75 L500,441.2 L526.5,441.2" class="kt" />
<line x1="459.5" y1="444.75" x2="521" y2="444.75" class="k" />
<line x1="460.2" y1="452.25" x2="522.5" y2="452.25" class="k" style="stroke-width:1.5"/>
<circle cx="465.8" cy="448.5" r="1.5" class="kt" />
<circle cx="470.95" cy="448.5" r="1.5" class="kt" />
<circle cx="476.1" cy="448.5" r="1.5" class="kt" />
<circle cx="481.25" cy="448.5" r="1.5" class="kt" />
<circle cx="486.4" cy="448.5" r="1.5" class="kt" />
<circle cx="491.55" cy="448.5" r="1.5" class="kt" />
<circle cx="496.7" cy="448.5" r="1.5" class="kt" />
<circle cx="501.85" cy="448.5" r="1.5" class="kt" />
<circle cx="507.0" cy="448.5" r="1.5" class="kt" />
<circle cx="512.15" cy="448.5" r="1.5" class="kt" />
<circle cx="517.3" cy="448.5" r="1.5" class="kt" />
<path d="M469.25,463.5 L506,463.5 Q511.25,463.5 511.25,469 L511.25,479 Q511.25,484.5 506,484.5 L469.25,484.5 Z" class="k" />
<rect x="464.75" y="488.25" width="2.9" height="9.75" rx="1.45" class="k" />
<rect x="469.65" y="488.25" width="2.9" height="9.75" rx="1.45" class="k" />
<rect x="474.55" y="488.25" width="2.9" height="9.75" rx="1.45" class="k" />
<rect x="479.45" y="488.25" width="2.9" height="9.75" rx="1.45" class="k" />
<rect x="484.35" y="488.25" width="2.9" height="9.75" rx="1.45" class="k" />
<rect x="489.25" y="488.25" width="2.9" height="9.75" rx="1.45" class="k" />
<rect x="494.15" y="488.25" width="2.9" height="9.75" rx="1.45" class="k" />
<rect x="499.05" y="488.25" width="2.9" height="9.75" rx="1.45" class="k" />
<rect x="503.95" y="488.25" width="2.9" height="9.75" rx="1.45" class="k" />
<rect x="508.85" y="488.25" width="2.9" height="9.75" rx="1.45" class="k" />
<path d="M467,502.5 L467,506.5 L533,506.5 M470,505 L533,505" class="kt" />
<path d="M529,438.6 L529,430.6 Q546.1,425.0 567,430.6 L567,438.6" class="k" />
<line x1="529" y1="430.6" x2="567" y2="430.6" class="k" />
<rect x="532.04" y="430.90000000000003" width="11.02" height="7.7" rx="1.2" class="k" />
<rect x="552.94" y="430.90000000000003" width="11.02" height="7.7" rx="1.2" class="k" />
<line x1="530.14" y1="430.6" x2="530.14" y2="438.6" class="kt" />
<line x1="565.86" y1="430.6" x2="565.86" y2="438.6" class="kt" />
<path d="M529.5,438.6 L532.2,447.5 L532.2,502.75 M559,438.6 L552.5,450.75 L552.5,480" class="k" />
<path d="M559,438.6 L627.25,438.6 L633.75,449.1 L634.5,488" class="k" />
<path d="M557.4,441.2 L586.6,441.2 L585,443.5 L559,443.5" class="kt" />
<path d="M594.75,438.6 L596.5,434 Q597.5,430.4 601,430.4 Q604.5,430.4 605.5,434 L607,438.6 Z" class="k" />
<line x1="599.5" y1="431" x2="599.5" y2="438.5" class="kt" />
<line x1="602.5" y1="431" x2="602.5" y2="438.5" class="kt" />
<path d="M550.9,480 L563,480 L573.6,489.75 L637,489.75 L637,509.25 L575,509.25" class="k" />
<path d="M550.9,481.5 L550.9,485 Q556,487.5 560.6,491.5 Q565.5,496 567,500.5 L568.5,509.25" class="k" />
<path d="M552.5,484 Q559,488 563,494 L565.3,504" class="kt" />
<path d="M532.5,484 L536,484 M532.5,496 L540,496" class="kt" />
<line x1="630" y1="511" x2="630" y2="570" class="k" />
<line x1="593.75" y1="511" x2="593.75" y2="522" class="k" />
<path d="M566,560 L566,610.75 L576.5,621.25 L576.5,659.75" class="k" />
<path d="M573,531 L573,562 L604,562 L604,533 Q604,528 600,528 L593,528 L593,512 L583,512 L583,528 L576,528 Q573,528 573,531 Z" class="wf" />
<path d="M579.5,562 L579.5,571 L587.6,579 L597.4,579 L605.5,571 L605.5,562" class="k" />
<circle cx="590" cy="577.4" r="2.3" class="k" style="stroke-width:1.6"/>
<rect x="584.5" y="514" width="7" height="12" rx="0" class="kf" />
<line x1="586.8" y1="514" x2="586.8" y2="526" class="k" style="stroke:#fff;stroke-width:0.6"/>
<line x1="589.2" y1="514" x2="589.2" y2="526" class="k" style="stroke:#fff;stroke-width:0.6"/>
<path d="M582,530 L592,530 L596,538 L590,541 L584,538 Z" class="kf" />
<path d="M574.5,534 L580,534 L580,548 L574.5,548 Z" class="kf" />
<rect x="597" y="531" width="5" height="6" rx="0" class="k" />
<rect x="597" y="539" width="5" height="5" rx="0" class="k" />
<line x1="576" y1="552" x2="603" y2="552" class="k" style="stroke-width:1.8"/>
<circle cx="583.5" cy="557" r="2" class="kf" />
<circle cx="596.5" cy="556.5" r="2.4" class="k" />
<path d="M598,548 L602,560 M592,548 L596,560" class="kt" />
<circle cx="589" cy="545" r="1.5" class="kf" />
<path d="M559,538 Q566,530 574,525.5 Q579,523.5 583,523.2 M560.5,543 Q568,535 576,530.5 Q580,528.8 583,528.5" class="k" style="stroke-width:1.4"/>
<path d="M549,512.5 Q556,512.5 561,515.5 Q566,520 569,528 M549,517.5 Q555,517.5 558,520.5 Q562,525 564.5,531" class="k" style="stroke-width:1.3"/>
<path d="M558,545 L555.5,572 M562,545 L559.5,572" class="k" />
<path d="M502,525 L556,525 Q559,525 559,528 L559,535 L557,547 Q554,556 548,561 Q544,564 538,564 L522,564 Q515,564 510,559 Q505,553 503,547 L500,535 L499,528 Q499,525 502,525 Z" class="k" />
<path d="M495,531 L496,545 L501,561 Q503,566 505,569 Q507,574 513,574 L547,574 Q553,574 555,569 L560,558 L563,543 L563.5,531" class="k" />
<path d="M497,531 L498,545 L503,560 Q505,565 508,567 Q510,571 515,571 L545,571 Q550,571 552,567 L557.5,557 L560.5,543 L561,531" class="k" />
<line x1="500.5" y1="531.5" x2="558" y2="531.5" class="k" />
<line x1="504" y1="549" x2="554.5" y2="549" class="k" />
<circle cx="508" cy="569" r="2.6" class="wf" />
<circle cx="551" cy="569" r="2.6" class="wf" />
<path d="M523,524 L524,515 Q526,508 530,507 L535,507 Q538,509 537,515 L535,524" class="wf" />
<path d="M524,524 Q524,514 530,509" class="kt" />
<path d="M513,524 Q514,515 518,512 Q522,510 525,513 M517,524 Q518,517 521,515" class="k" />
<path d="M540,524 Q541,516 545,513 Q549,512 550,516 L551,524 M543,524 Q544,518 546,516" class="k" />
<path d="M526,506 L530,500 L536,498 L540,502 M532,503 L540,507" class="k" />
<path d="M501,512 Q505,509 510,510 M547,507 Q552,504 556,507 L560,512" class="k" />
<path d="M485,506.5 L492.5,506.5 L491,513 L489.5,515.5 L488,515.5 L486.5,513 Z M506,506.5 L513.5,506.5 L512,513 L510.5,515.5 L509,515.5 L507.5,513 Z" class="k" />
<path d="M490,511 L496,536 M494,510 L500,530" class="k" />
<path d="M475.75,508 Q469,518 470,530 Q470.5,542 478,546.5 L493.75,550 M480,508 Q474,518 474.5,530 Q475,540 480,543.5 L494,546.5" class="k" />
<path d="M473.75,547.5 L493.75,547.5 L493.75,556.25 L473.75,556.25 Z" class="k" />
<rect x="470" y="548.5" width="4" height="6" rx="0" class="k" />
<path d="M475.9,552 L475.9,584.5 M476.75,567 L501.25,583.6 L565.1,583.6 L565.1,570" class="k" />
<path d="M476.75,586.25 L501.25,600.25 L567.75,600.25 L567.75,593.25" class="k" />
<circle cx="510" cy="582.75" r="2.6" class="k" style="stroke-width:1.6"/>
<ellipse cx="539.75" cy="591.5" rx="5" ry="2.3" class="k"/>
<circle cx="539.75" cy="591.5" r="1.2" class="k" />
<line x1="500.4" y1="600.25" x2="500.4" y2="659.75" class="k" />
<line x1="480.25" y1="659.75" x2="576.5" y2="659.75" class="k" style="stroke-width:1.6"/>
<line x1="500.4" y1="649.25" x2="576.5" y2="649.25" class="k" />
<circle cx="531.9" cy="654.5" r="1.9" class="k" />
<path d="M501.25,602 L530.1,602 L530.1,612.5 L501.25,612.5" class="k" />
<path d="M505.6,614.25 L514,614.25 Q516,614.25 516,617 L516,638 Q516,640.5 513,640.5 L506,640.5" class="k" />
<path d="M477.6,591 L477.6,623 L481.1,626.5 L481.1,659.75 M480.25,593 L480.25,620 M482.9,596 L482.9,626 M486.4,594 L486.4,609" class="k" />
<path d="M487,614.5 Q483.5,625 488.5,637 Q492,642 496,638.5 Q500,630 498.5,620 Q496.5,613.5 491,612.5 Z" class="k" />
<path d="M485,611 L489,608.5 L493,611 L491,614.5 Z" class="k" />
<path d="M487.5,620 Q493,623 498.5,619.5 M487,627 Q493,630.5 499,627 M490,613 L497,623" class="kt" />
<line x1="505.6" y1="635" x2="505.6" y2="659.75" class="k" />
<path d="M452.25,587 L476.75,585.4 L476.75,598.5 L452.25,597 Z" class="k" />
<line x1="468" y1="585.8" x2="468" y2="598" class="k" />
<path d="M616,599.5 L641.25,590.4 L641.25,636 L616.9,644 Z" class="k" />
<rect x="618.0" y="600.5" width="2.4" height="15.5" rx="1.2" class="k" style="stroke-width:1.3"/>
<rect x="622.6" y="598.9" width="2.4" height="15.5" rx="1.2" class="k" style="stroke-width:1.3"/>
<rect x="627.2" y="597.3" width="2.4" height="15.5" rx="1.2" class="k" style="stroke-width:1.3"/>
<rect x="631.8" y="595.7" width="2.4" height="15.5" rx="1.2" class="k" style="stroke-width:1.3"/>
<rect x="636.4" y="594.1" width="2.4" height="15.5" rx="1.2" class="k" style="stroke-width:1.3"/>
<rect x="618.0" y="619.0" width="2.4" height="15.5" rx="1.2" class="k" style="stroke-width:1.3"/>
<rect x="622.6" y="617.4" width="2.4" height="15.5" rx="1.2" class="k" style="stroke-width:1.3"/>
<rect x="627.2" y="615.8" width="2.4" height="15.5" rx="1.2" class="k" style="stroke-width:1.3"/>
<rect x="631.8" y="614.2" width="2.4" height="15.5" rx="1.2" class="k" style="stroke-width:1.3"/>
<rect x="636.4" y="612.6" width="2.4" height="15.5" rx="1.2" class="k" style="stroke-width:1.3"/>
<rect x="618.0" y="637.2" width="2.4" height="3.6" rx="1.2" class="k" style="stroke-width:1.3"/>
<rect x="622.6" y="635.7" width="2.4" height="3.6" rx="1.2" class="k" style="stroke-width:1.3"/>
<rect x="627.2" y="634.2" width="2.4" height="3.6" rx="1.2" class="k" style="stroke-width:1.3"/>
<rect x="631.8" y="632.7" width="2.4" height="3.6" rx="1.2" class="k" style="stroke-width:1.3"/>
<rect x="636.4" y="631.2" width="2.4" height="3.6" rx="1.2" class="k" style="stroke-width:1.3"/>
<line x1="610.4" y1="610" x2="610.4" y2="653.75" class="k" />
<line x1="616" y1="610" x2="616" y2="645" class="k" />
<path d="M631.5,545 Q638,545.5 644.5,548.5 Q648.5,560 648,571 Q647,582 641.25,588 Q637,588.5 636,585 L633.5,572 L632,556 Z" class="k" />
<path d="M644.5,548.5 Q649,560 648.5,571 Q647.5,582 641.25,588" class="g" />
<path d="M605.5,590.4 L605.5,610 L610.4,610 L610.4,653.75 L607,657 L576.25,658.6" class="k" />
<path d="M605.5,590 L616,582 L631,579.5 L631,570 M605.5,570 L631,570" class="k" />
<path d="M630,570 L636,566 L636,548" class="k" />
<path d="M620,541 Q617.5,545 620,550 L630,550 L630,541 Z" class="k" />
<circle cx="621" cy="545.5" r="1.8" class="kf" />
<path d="M631,548 L636,544 L638,540" class="k" />
<circle cx="634.5" cy="577" r="1.6" class="k" />
<rect x="576.25" y="650.5" width="3.25" height="6.5" rx="0" class="k" />
<path d="M630,549 L630,570 M633,550 L633,568" class="k" />
<line x1="515.6" y1="262.5" x2="515.6" y2="376.25" class="r" />
<line x1="467.5" y1="303.6" x2="558.5" y2="303.6" class="r" />
<circle cx="515.6" cy="303.6" r="34" class="r" />
<path d="M479.86,294.02 A37,37 0 0 1 506.02,267.86" class="r" />
<path d="M525.18,267.86 A37,37 0 0 1 551.34,294.02" class="r" />
<path d="M551.34,313.18 A37,37 0 0 1 525.18,339.34" class="r" />
<path d="M506.02,339.34 A37,37 0 0 1 479.86,313.18" class="r" />
<path d="M475.66,289.06 A42.5,42.5 0 0 1 501.06,263.66" class="r" />
<path d="M530.14,263.66 A42.5,42.5 0 0 1 555.54,289.06" class="r" />
<path d="M555.54,318.14 A42.5,42.5 0 0 1 530.14,343.54" class="r" />
<path d="M501.06,343.54 A42.5,42.5 0 0 1 475.66,318.14" class="r" />
<path d="M476.28,276.07 A48,48 0 0 1 491.60,262.03" class="r" />
<path d="M539.60,262.03 A48,48 0 0 1 554.92,276.07" class="r" />
<path d="M554.92,331.13 A48,48 0 0 1 539.60,345.17" class="r" />
<path d="M491.60,345.17 A48,48 0 0 1 476.28,331.13" class="r" />
<path d="M506.57,252.39 A52,52 0 0 1 524.63,252.39" class="r" />
<path d="M524.63,354.81 A52,52 0 0 1 506.57,354.81" class="r" />
<path d="M464.39,312.63 A52,52 0 0 1 464.39,294.57" class="r" />
<path d="M566.81,294.57 A52,52 0 0 1 566.81,312.63" class="r" />
<line x1="549.41" y1="312.66" x2="565.83" y2="317.06" class="r" />
<line x1="540.35" y1="328.35" x2="552.37" y2="340.37" class="r" />
<line x1="524.66" y1="337.41" x2="529.06" y2="353.83" class="r" />
<line x1="506.54" y1="337.41" x2="502.14" y2="353.83" class="r" />
<line x1="490.85" y1="328.35" x2="478.83" y2="340.37" class="r" />
<line x1="481.79" y1="312.66" x2="465.37" y2="317.06" class="r" />
<line x1="481.79" y1="294.54" x2="465.37" y2="290.14" class="r" />
<line x1="490.85" y1="278.85" x2="478.83" y2="266.83" class="r" />
<line x1="506.54" y1="269.79" x2="502.14" y2="253.37" class="r" />
<line x1="524.66" y1="269.79" x2="529.06" y2="253.37" class="r" />
<line x1="540.35" y1="278.85" x2="552.37" y2="266.83" class="r" />
<line x1="549.41" y1="294.54" x2="565.83" y2="290.14" class="r" />
<line x1="555.6" y1="300.6" x2="555.6" y2="306.6" class="r" />
<line x1="561.6" y1="300.6" x2="561.6" y2="306.6" class="r" />
<line x1="518.6" y1="343.6" x2="512.6" y2="343.6" class="r" />
<line x1="518.6" y1="349.6" x2="512.6" y2="349.6" class="r" />
<line x1="475.6" y1="306.6" x2="475.6" y2="300.6" class="r" />
<line x1="469.6" y1="306.6" x2="469.6" y2="300.6" class="r" />
<line x1="512.6" y1="263.6" x2="518.6" y2="263.6" class="r" />
<line x1="512.6" y1="257.6" x2="518.6" y2="257.6" class="r" />
<line x1="478.6" y1="333.75" x2="492.6" y2="333.75" class="r" />
<line x1="485.6" y1="326.75" x2="485.6" y2="342.75" class="r" />
<line x1="489.5" y1="336.0" x2="493.39" y2="338.25" class="r" />
<line x1="487.85" y1="337.65" x2="490.1" y2="341.54" class="r" />
<line x1="483.35" y1="337.65" x2="481.1" y2="341.54" class="r" />
<line x1="481.7" y1="336.0" x2="477.81" y2="338.25" class="r" />
<line x1="481.7" y1="331.5" x2="477.81" y2="329.25" class="r" />
<line x1="489.5" y1="331.5" x2="493.39" y2="329.25" class="r" />
<line x1="538.6" y1="333.75" x2="552.6" y2="333.75" class="r" />
<line x1="545.6" y1="326.75" x2="545.6" y2="342.75" class="r" />
<line x1="549.5" y1="336.0" x2="553.39" y2="338.25" class="r" />
<line x1="547.85" y1="337.65" x2="550.1" y2="341.54" class="r" />
<line x1="543.35" y1="337.65" x2="541.1" y2="341.54" class="r" />
<line x1="541.7" y1="336.0" x2="537.81" y2="338.25" class="r" />
<line x1="541.7" y1="331.5" x2="537.81" y2="329.25" class="r" />
<line x1="549.5" y1="331.5" x2="553.39" y2="329.25" class="r" />
<line x1="488" y1="267.5" x2="502" y2="267.5" class="r" />
<line x1="495" y1="260.5" x2="495" y2="276.5" class="r" />
<line x1="498.9" y1="269.75" x2="502.79" y2="272.0" class="r" />
<line x1="497.25" y1="271.4" x2="499.5" y2="275.29" class="r" />
<line x1="492.75" y1="271.4" x2="490.5" y2="275.29" class="r" />
<line x1="491.1" y1="269.75" x2="487.21" y2="272.0" class="r" />
<line x1="491.1" y1="265.25" x2="487.21" y2="263.0" class="r" />
<line x1="498.9" y1="265.25" x2="502.79" y2="263.0" class="r" />
<line x1="529.9" y1="267.5" x2="543.9" y2="267.5" class="r" />
<line x1="536.9" y1="260.5" x2="536.9" y2="276.5" class="r" />
<line x1="540.8" y1="269.75" x2="544.69" y2="272.0" class="r" />
<line x1="539.15" y1="271.4" x2="541.4" y2="275.29" class="r" />
<line x1="534.65" y1="271.4" x2="532.4" y2="275.29" class="r" />
<line x1="533.0" y1="269.75" x2="529.11" y2="272.0" class="r" />
<line x1="533.0" y1="265.25" x2="529.11" y2="263.0" class="r" />
<line x1="540.8" y1="265.25" x2="544.69" y2="263.0" class="r" />
<line x1="568.75" y1="280.25" x2="568.75" y2="292.25" class="r" />
<line x1="563.75" y1="286.25" x2="573.75" y2="286.25" class="r" />
<circle cx="568.75" cy="286.25" r="1.2" class="kf" style="fill:#a00;stroke:#a00"/>
<line x1="568.1" y1="315.9" x2="568.1" y2="327.9" class="r" />
<line x1="563.1" y1="321.9" x2="573.1" y2="321.9" class="r" />
<circle cx="568.1" cy="321.9" r="1.2" class="kf" style="fill:#a00;stroke:#a00"/>
<line x1="568.5" y1="280" x2="568.5" y2="330" class="r" />
<path d="M412,255.4 L441.25,255.4 Q446,256 452,258 L493.75,266.9" class="g" />
<text x="414" y="253.5" class="gt" >8-M8-6H</text>
<path d="M418.75,267.3 L485,267.3 M419.35,267.3 L419.35,303.6" class="b" />
<path d="M411.6,276.75 L419.5,276.75 L419.5,295.5 L411.6,295.5 Z" class="b" />
<text x="417.6" y="294" class="bt" transform="rotate(-90 417.6 294)">71.5</text>
<path d="M417,303.6 L467.5,303.6 M558.5,303.6 L655,303.6 M419.35,303.6 L419.35,333.75 M419.35,333.75 L486,333.75" class="g" />
<path d="M411.6,307.5 L419.5,307.5 L419.5,330 L411.6,330 Z" class="g" />
<text x="417.6" y="329" class="gt" transform="rotate(-90 417.6 329)">58.38</text>
<path d="M653.75,303.6 L653.75,373.6 M577,373.6 L655,373.6" class="g" />
<text x="652" y="351" class="gt" transform="rotate(-90 652 351)">155.5±0.1</text>
<path d="M400,353 L442.5,353 L546.25,282.6" class="g" />
<text x="401" y="351.5" class="gt" >(Ø148R(8×m6))</text>
<path d="M407.5,367.5 L441.25,367.5 L541,285.25" class="y" />
<text x="408" y="365.8" class="yt" >Ø26.5±0.2</text>
<path d="M504,283 Q506,279.5 509,281.5 M511,282 Q515,278 520,281 M522,281.5 Q525,279.5 527,283" class="g" />
<text x="504.5" y="290.5" class="bt" style="font-size:6.5px;font-weight:bold;letter-spacing:-0.2px">XP-EX</text>
<path d="M500,325 Q515,330 531,325" class="g" />
</svg></body></html>
